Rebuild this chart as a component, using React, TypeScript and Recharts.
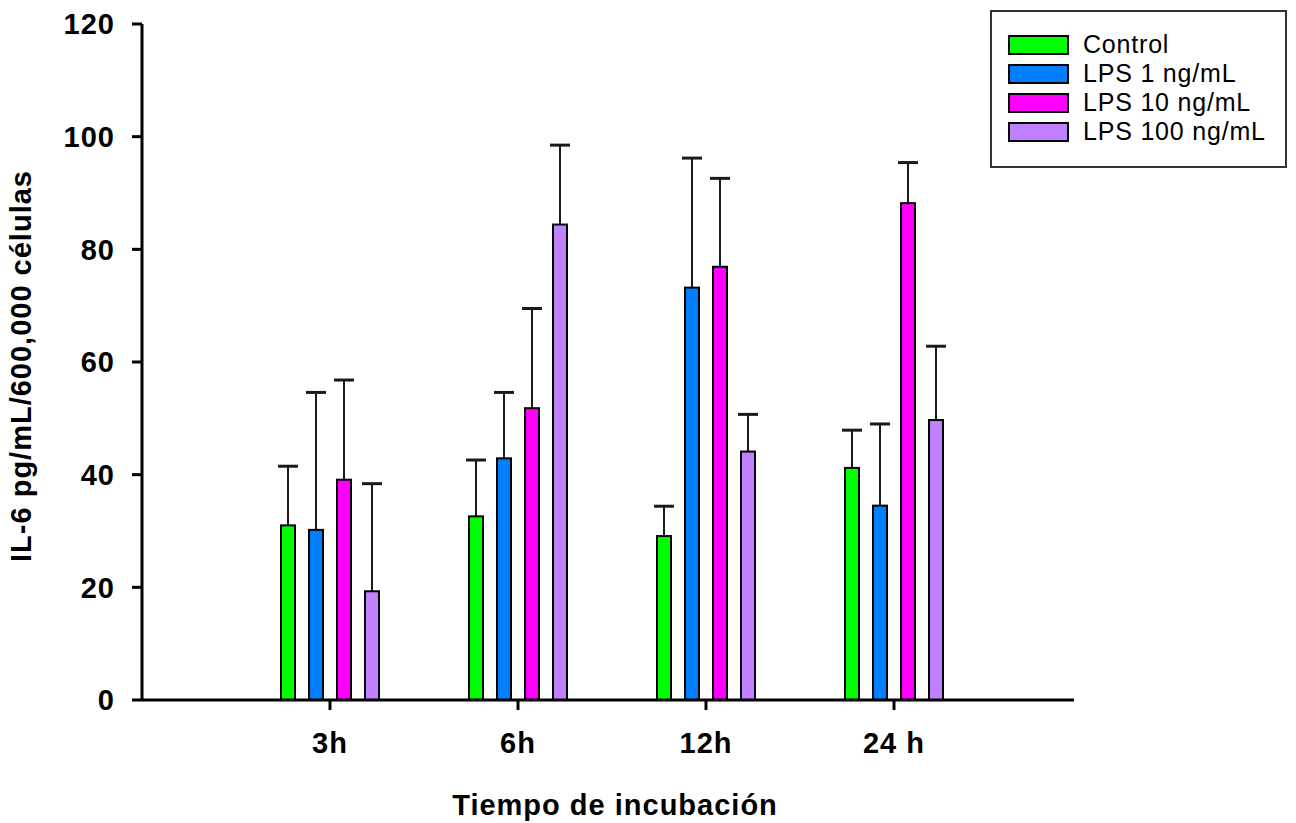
import { Bar, BarChart, Label, Legend, XAxis, YAxis } from "recharts";

// time points on the x axis
const categories = ["3h", "6h", "12h", "24 h"];

// IL-6 means (pg/mL/600,000 células) and upper SD
const control = [31.0, 32.6, 29.1, 41.2];
const controlErr = [10.5, 10.0, 5.3, 6.7];
const lps1 = [30.2, 42.9, 73.2, 34.5];
const lps1Err = [24.4, 11.7, 23.0, 14.5];
const lps10 = [39.1, 51.8, 76.9, 88.2];
const lps10Err = [17.7, 17.7, 15.7, 7.2];
const lps100 = [19.3, 84.4, 44.1, 49.7];
const lps100Err = [19.1, 14.1, 6.6, 13.1];

const yTicks = [0, 20, 40, 60, 80, 100, 120];

const data = categories.map((name, i) => ({
  name,
  control: control[i],
  controlErr: controlErr[i],
  lps1: lps1[i],
  lps1Err: lps1Err[i],
  lps10: lps10[i],
  lps10Err: lps10Err[i],
  lps100: lps100[i],
  lps100Err: lps100Err[i],
}));

const FONT = "'Liberation Sans', Arial, sans-serif";

const tickStyle = {
  fontSize: 29,
  fontWeight: "bold",
  fill: "#000",
  fontFamily: FONT,
  letterSpacing: 1,
};

// bar with black outline plus an upper-only whisker with a cap
const makeBarShape = (key: string, errKey: string) => (props: any) => {
  const { x, y, width, height, fill, payload } = props;
  const v = payload[key];
  const pxPerUnit = v ? height / v : 0;
  const errPx = payload[errKey] * pxPerUnit;
  const cx = x + width / 2;
  return (
    <g>
      <line x1={cx} x2={cx} y1={y} y2={y - errPx} stroke="#1a1a1a" strokeWidth={2} />
      <line x1={cx - 10} x2={cx + 10} y1={y - errPx} y2={y - errPx} stroke="#1a1a1a" strokeWidth={3} />
      <rect x={x} y={y} width={width} height={height} fill={fill} stroke="#000" strokeWidth={2} />
    </g>
  );
};

const renderLegend = (props: any) => {
  const { payload } = props;
  return (
    <div
      style={{
        boxSizing: "border-box",
        width: 297,
        height: 158,
        border: "2px solid #333",
        background: "#fff",
        paddingTop: 18,
        paddingLeft: 16,
        fontFamily: FONT,
      }}
    >
      {(payload || []).map((entry: any) => (
        <div key={entry.value} style={{ display: "flex", alignItems: "center", height: 29 }}>
          <div
            style={{
              boxSizing: "border-box",
              width: 61,
              height: 20,
              background: entry.color,
              border: "2px solid #000",
            }}
          />
          <span style={{ marginLeft: 14, fontSize: 25, letterSpacing: 0.8, color: "#000", lineHeight: "29px" }}>
            {entry.value}
          </span>
        </div>
      ))}
    </div>
  );
};

const YTitle = (props: any) => {
  const { viewBox } = props;
  const cy = viewBox.y + viewBox.height / 2 + 4;
  return (
    <text
      x={31}
      y={cy}
      transform={`rotate(-90 31 ${cy})`}
      textAnchor="middle"
      fontSize={29}
      fontWeight="bold"
      fontFamily={FONT}
      letterSpacing={1}
      fill="#000"
    >
      IL-6 pg/mL/600,000 células
    </text>
  );
};

const XTitle = (props: any) => {
  const { viewBox } = props;
  return (
    <text
      x={viewBox.x + viewBox.width / 2 + 7}
      y={viewBox.y + 115}
      textAnchor="middle"
      fontSize={29}
      fontWeight="bold"
      fontFamily={FONT}
      letterSpacing={1}
      fill="#000"
    >
      Tiempo de incubación
    </text>
  );
};

export default function App() {
  return (
    <div style={{ position: "absolute", left: 0, top: 0, background: "#fff" }}>
      <BarChart
        width={1296}
        height={823}
        data={data}
        margin={{ top: 24, right: 222, left: 0, bottom: 0 }}
        barSize={14}
        barGap={14}
        style={{ fontFamily: FONT }}
      >
        <XAxis
          dataKey="name"
          height={123}
          padding={{ left: 94, right: 86 }}
          axisLine={{ stroke: "#000", strokeWidth: 3 }}
          tickLine={{ stroke: "#000", strokeWidth: 3 }}
          tickSize={10}
          tickMargin={22}
          tick={tickStyle}
        >
          <Label content={<XTitle />} />
        </XAxis>
        <YAxis
          width={142}
          domain={[0, 120]}
          ticks={yTicks}
          interval={0}
          axisLine={{ stroke: "#000", strokeWidth: 3 }}
          tickLine={{ stroke: "#000", strokeWidth: 3 }}
          tickSize={10}
          tickMargin={17}
          tick={tickStyle}
        >
          <Label content={<YTitle />} />
        </YAxis>
        <Legend
          layout="horizontal"
          verticalAlign="middle"
          align="center"
          content={renderLegend}
          wrapperStyle={{ left: 990, top: 10, width: 297, height: 158 }}
        />
        <Bar dataKey="control" name="Control" fill="#00ff00" shape={makeBarShape("control", "controlErr")} isAnimationActive={false} />
        <Bar dataKey="lps1" name="LPS 1 ng/mL" fill="#0080ff" shape={makeBarShape("lps1", "lps1Err")} isAnimationActive={false} />
        <Bar dataKey="lps10" name="LPS 10 ng/mL" fill="#ff00ff" shape={makeBarShape("lps10", "lps10Err")} isAnimationActive={false} />
        <Bar dataKey="lps100" name="LPS 100 ng/mL" fill="#c080ff" shape={makeBarShape("lps100", "lps100Err")} isAnimationActive={false} />
      </BarChart>
    </div>
  );
}
